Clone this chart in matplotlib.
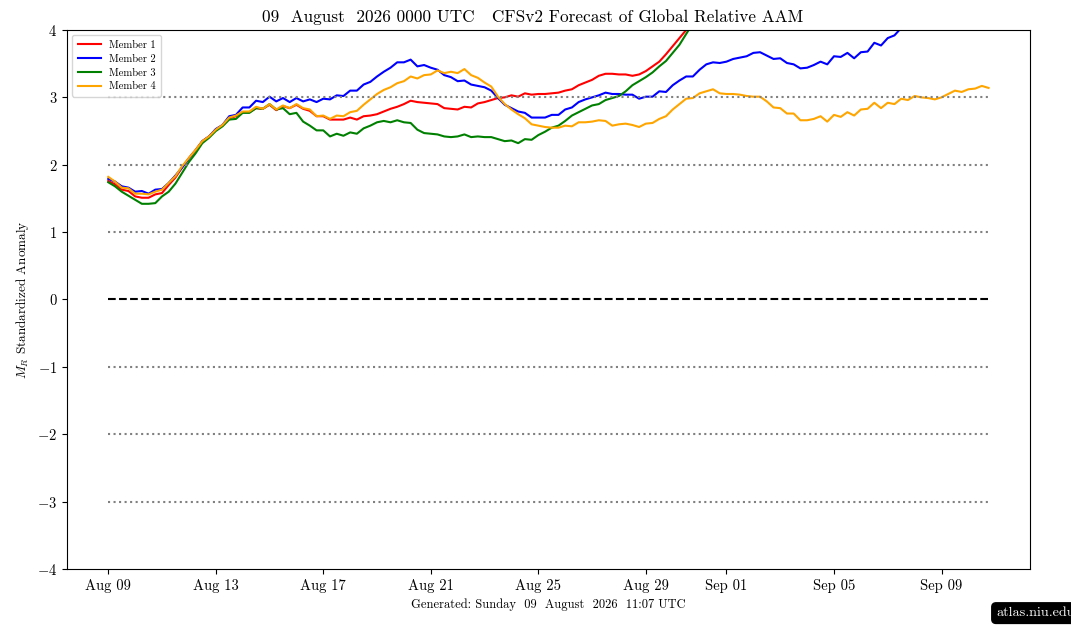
import numpy as np
import pandas as pd
import matplotlib
matplotlib.use('Agg')
import matplotlib.pyplot as plt
import matplotlib.dates as mdates

# CFSv2 ensemble members, 6-hourly from 09 Aug 2026 00Z (values above 4 run off the top)
member1 = [1.76, 1.71, 1.63, 1.61, 1.53, 1.51, 1.51, 1.56, 1.58, 1.70, 1.81, 1.96, 2.10, 2.22, 2.35, 2.42,
           2.52, 2.58, 2.69, 2.72, 2.78, 2.78, 2.84, 2.83, 2.89, 2.81, 2.87, 2.84, 2.89, 2.83, 2.80, 2.72,
           2.72, 2.67, 2.67, 2.67, 2.70, 2.67, 2.72, 2.73, 2.75, 2.79, 2.83, 2.86, 2.90, 2.95, 2.93, 2.92,
           2.91, 2.90, 2.84, 2.83, 2.82, 2.86, 2.85, 2.91, 2.93, 2.96, 2.99, 3.00, 3.03, 3.01, 3.06, 3.04,
           3.05, 3.05, 3.06, 3.07, 3.10, 3.12, 3.18, 3.22, 3.26, 3.32, 3.35, 3.35, 3.34, 3.34, 3.32, 3.34,
           3.39, 3.46, 3.53, 3.64, 3.76, 3.88, 4.00, 4.13, 4.26]
member2 = [1.79, 1.75, 1.68, 1.66, 1.60, 1.61, 1.57, 1.63, 1.64, 1.73, 1.84, 1.96, 2.09, 2.21, 2.35, 2.42,
           2.53, 2.59, 2.72, 2.74, 2.85, 2.85, 2.95, 2.93, 3.01, 2.94, 2.99, 2.93, 2.99, 2.94, 2.97, 2.93,
           2.98, 2.97, 3.03, 3.02, 3.10, 3.10, 3.19, 3.23, 3.31, 3.38, 3.44, 3.52, 3.52, 3.56, 3.46, 3.48,
           3.44, 3.41, 3.33, 3.30, 3.24, 3.25, 3.19, 3.17, 3.15, 3.10, 2.99, 2.89, 2.84, 2.79, 2.77, 2.70,
           2.70, 2.70, 2.74, 2.74, 2.82, 2.85, 2.93, 2.97, 3.00, 3.03, 3.07, 3.05, 3.05, 3.04, 3.04, 2.98,
           3.01, 3.01, 3.09, 3.08, 3.18, 3.25, 3.31, 3.31, 3.41, 3.49, 3.52, 3.51, 3.53, 3.57, 3.59, 3.61,
           3.66, 3.67, 3.62, 3.57, 3.58, 3.51, 3.49, 3.43, 3.44, 3.48, 3.53, 3.49, 3.61, 3.60, 3.66, 3.58,
           3.67, 3.68, 3.81, 3.77, 3.88, 3.92, 4.03, 4.15]
member3 = [1.74, 1.68, 1.60, 1.54, 1.48, 1.42, 1.42, 1.43, 1.53, 1.60, 1.72, 1.88, 2.04, 2.17, 2.32, 2.40,
           2.50, 2.57, 2.67, 2.68, 2.77, 2.77, 2.84, 2.83, 2.90, 2.82, 2.84, 2.75, 2.77, 2.64, 2.58, 2.51,
           2.51, 2.42, 2.46, 2.43, 2.48, 2.46, 2.54, 2.58, 2.63, 2.65, 2.63, 2.66, 2.63, 2.62, 2.52, 2.47,
           2.46, 2.45, 2.42, 2.41, 2.42, 2.45, 2.41, 2.42, 2.41, 2.41, 2.38, 2.35, 2.36, 2.32, 2.38, 2.37,
           2.44, 2.49, 2.55, 2.58, 2.65, 2.73, 2.78, 2.83, 2.88, 2.90, 2.96, 2.99, 3.02, 3.09, 3.18, 3.24,
           3.30, 3.37, 3.46, 3.54, 3.66, 3.78, 3.94, 4.10, 4.26]
member4 = [1.82, 1.75, 1.66, 1.65, 1.57, 1.57, 1.56, 1.60, 1.63, 1.73, 1.83, 1.98, 2.10, 2.22, 2.35, 2.42,
           2.52, 2.59, 2.70, 2.73, 2.79, 2.79, 2.86, 2.83, 2.90, 2.82, 2.88, 2.84, 2.90, 2.84, 2.82, 2.72,
           2.73, 2.68, 2.73, 2.72, 2.78, 2.80, 2.89, 2.97, 3.05, 3.11, 3.15, 3.21, 3.24, 3.31, 3.28, 3.33,
           3.34, 3.40, 3.36, 3.38, 3.36, 3.42, 3.33, 3.29, 3.22, 3.16, 3.01, 2.90, 2.82, 2.75, 2.69, 2.60,
           2.58, 2.56, 2.55, 2.55, 2.58, 2.57, 2.63, 2.63, 2.64, 2.66, 2.65, 2.58, 2.60, 2.61, 2.59, 2.56,
           2.61, 2.62, 2.68, 2.72, 2.82, 2.90, 2.98, 2.99, 3.06, 3.09, 3.12, 3.06, 3.05, 3.05, 3.04, 3.02,
           3.01, 3.01, 2.94, 2.85, 2.84, 2.76, 2.76, 2.66, 2.66, 2.68, 2.72, 2.64, 2.74, 2.71, 2.78, 2.73,
           2.82, 2.83, 2.92, 2.84, 2.92, 2.90, 2.98, 2.96, 3.02, 3.00, 2.99, 2.97, 3.00, 3.05, 3.10, 3.08,
           3.12, 3.13, 3.17, 3.14]

members = [member1, member2, member3, member4]
labels = ['Member 1', 'Member 2', 'Member 3', 'Member 4']
colors = ['red', 'blue', 'green', 'orange']
ref_levels = [-3, -2, -1, 1, 2, 3]
tick_dates = ['2026-08-09', '2026-08-13', '2026-08-17', '2026-08-21', '2026-08-25',
              '2026-08-29', '2026-09-01', '2026-09-05', '2026-09-09']

plt.rcParams['font.family'] = 'serif'
plt.rcParams['font.serif'] = ['cmr10', 'DejaVu Serif']
plt.rcParams['mathtext.fontset'] = 'cm'
plt.rcParams['axes.formatter.use_mathtext'] = True
plt.rcParams['axes.unicode_minus'] = True

times = pd.date_range('2026-08-09 00:00', periods=len(member4), freq='6h')

fig = plt.figure(figsize=(10.71, 6.38), dpi=100)
ax = fig.add_axes([0.0626, 0.1082, 0.8991, 0.8448])

for vals, lab, col in zip(members, labels, colors):
    ax.plot(times[:len(vals)], vals, color=col, linewidth=1.5, label=lab)

for lev in ref_levels:
    ax.hlines(lev, times[0], times[-1], colors='gray', linestyles=':', linewidth=1.5)
ax.hlines(0, times[0], times[-1], colors='black', linestyles='--', linewidth=1.5)

ax.set_ylim(-4, 4)
ax.set_xlim(times[0] - pd.Timedelta(hours=36.8), times[-1] + pd.Timedelta(hours=37))
ax.set_yticks(range(-4, 5))
ax.set_xticks(pd.to_datetime(tick_dates))
ax.xaxis.set_major_formatter(mdates.DateFormatter('%b %d'))
ax.tick_params(axis='x', labelsize=10.5)
ax.tick_params(axis='y', labelsize=10.5)

ax.set_ylabel(r'$M_R$ Standardized Anomaly', fontsize=9.5)
ax.set_title('09  August  2026 0000 UTC   CFSv2 Forecast of Global Relative AAM',
             fontsize=12.4, pad=6, x=0.483)

ax.legend(loc='upper left', fontsize=7.6, handlelength=2.2, borderpad=0.5, labelspacing=0.4)

fig.text(0.512, 0.052, 'Generated: Sunday  09  August  2026  11:07 UTC', ha='center', va='center', fontsize=9)
fig.text(0.930, 0.039, 'atlas.niu.edu', ha='left', va='center', fontsize=10.2, color='white',
         bbox=dict(boxstyle='round,pad=0.3', facecolor='black', edgecolor='black'))

plt.savefig('out.png', dpi=100)
